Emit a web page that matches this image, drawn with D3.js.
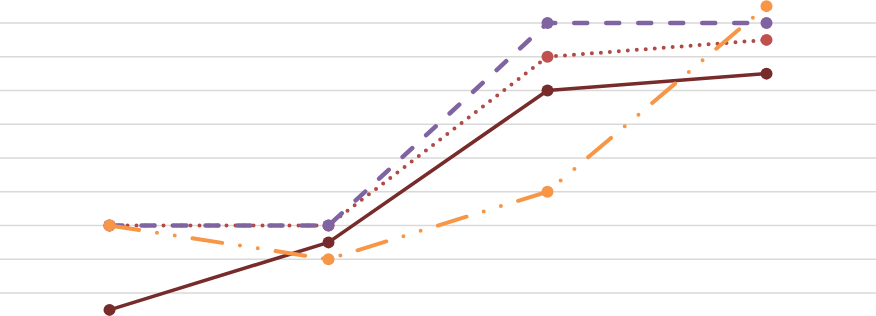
<!DOCTYPE html>
<html>
<head>
<meta charset="utf-8">
<script src="https://cdn.jsdelivr.net/npm/d3@7"></script>
<style>
  html, body { margin: 0; padding: 0; background: #fff; }
  svg { display: block; }
</style>
</head>
<body>
<svg id="chart"></svg>
<script>
// categories along x (no labels shown in the picture)
const categories = ["A", "B", "C", "D"];
// gridline values
const gridValues = [1, 2, 3, 4, 5, 6, 7, 8, 9];

// series values
const solidSeries = [0.5, 2.5, 7, 7.5];
const dottedSeries = [3, 3, 8, 8.5];
const dashedSeries = [3, 3, 9, 9];
const dashDotSeries = [3, 2, 4, 9.5];

const W = 876, H = 316;
const svg = d3.select("#chart").attr("width", W).attr("height", H);

const x = d3.scaleBand().domain(categories).range([0, W]);
const y = d3.scaleLinear().domain([1, 9]).range([293, 23]);

// horizontal gridlines
svg.append("g").selectAll("line").data(gridValues).join("line")
   .attr("x1", 0).attr("x2", W)
   .attr("y1", d => y(d)).attr("y2", d => y(d))
   .attr("stroke", "#d9d9d9").attr("stroke-width", 1.6);

const series = [
  { values: solidSeries, color: "#772b2b", width: 3.6, dash: null, r: 6 },
  { values: dottedSeries, color: "#b14a45", width: 4, dash: "0 9", r: 6, markerColor: "#c0504d" },
  { values: dashedSeries, color: "#8064a2", width: 4.5, dash: "13 19", r: 6 },
  { values: dashDotSeries, color: "#f79646", width: 4, dash: "30 18 0 18 0 18", r: 6 }
];

const line = d3.line()
  .x((d, i) => x(categories[i]) + x.bandwidth() / 2)
  .y(d => y(d));

series.forEach(s => {
  svg.append("path").datum(s.values)
     .attr("d", line)
     .attr("fill", "none")
     .attr("stroke", s.color)
     .attr("stroke-width", s.width)
     .attr("stroke-linecap", "round")
     .attr("stroke-linejoin", "round")
     .attr("stroke-dasharray", s.dash);

  svg.append("g").selectAll("circle").data(s.values).join("circle")
     .attr("cx", (d, i) => x(categories[i]) + x.bandwidth() / 2)
     .attr("cy", d => y(d))
     .attr("r", s.r)
     .attr("fill", s.markerColor || s.color);
});
</script>
</body>
</html>
